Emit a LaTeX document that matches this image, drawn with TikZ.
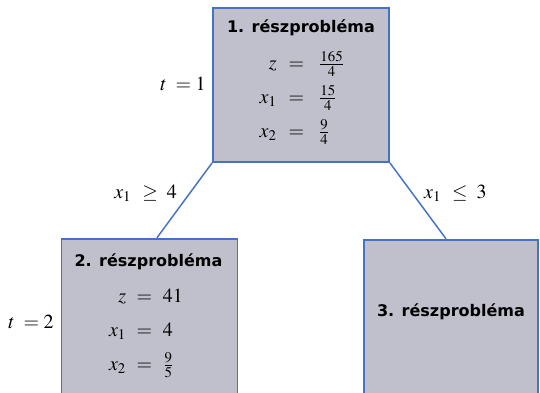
\documentclass[tikz,border=0pt]{standalone}
\usepackage{mathptmx}
\usepackage[no-math]{fontspec}
\newfontfamily\titlefont{DejaVu Sans}
\usepackage{xcolor}
\usepackage{tikz}
\usetikzlibrary{positioning, calc}
\definecolor{boxFill}{RGB}{192,192,205}
\definecolor{boxLine}{RGB}{68,114,196}

\begin{document}
\begin{tikzpicture}[
    x=0.75pt, y=-0.75pt,
    subproblem/.style={rectangle, draw=boxLine, line width=1.4pt, fill=boxFill, minimum width=132pt, inner sep=0pt},
    title/.style={font=\titlefont\bfseries\fontsize{12}{14}\selectfont},
    values/.style={font=\fontsize{15}{17}\selectfont, inner sep=0pt},
    branch/.style={draw=boxLine, line width=1.1pt},
    cond/.style={font=\fontsize{15}{17}\selectfont}
]
    \clip (0,0) rectangle (540,393);

    % Subproblem 1
    \node[subproblem, minimum height=115.5pt] (box1) at (301,85) {};
    \node[title] (title1) at (301,28) {1. részprobléma};
    \node[values] (val1) at (302,97) {$\renewcommand{\arraystretch}{1.5}\begin{array}{r@{\hspace{9pt}}c@{\hspace{11pt}}l}
        z & = & \frac{165}{4}\\
        x_1 & = & \frac{15}{4}\\
        x_2 & = & \frac{9}{4}
    \end{array}$};
    \node[cond] (t1) at (183,84) {$t\;=1$};

    % Subproblem 2
    \node[subproblem, minimum height=128pt] (box2) at (149.5,324) {};
    \node[title] (title2) at (148.5,262) {2. részprobléma};
    \node[values] (val2) at (146,330) {$\renewcommand{\arraystretch}{1.5}\begin{array}{r@{\hspace{8pt}}c@{\hspace{8pt}}l}
        z & = & 41\\
        x_1 & = & 4\\
        x_2 & = & \frac{9}{5}
    \end{array}$};
    \node[cond] (t2) at (31,322) {$t\;=2$};

    % Subproblem 3
    \node[subproblem, minimum width=130.5pt, minimum height=128pt] (box3) at (451,325) {};
    \node[title] (title3) at (451,312) {3. részprobléma};

    % Branches
    \draw[branch] (box1.south west) -- ([xshift=5.6pt]box2.north)
        node[pos=0.4, left=6pt, cond] (c1) {$x_1\;\,\geq\;4$};
    \draw[branch] (box1.south east) -- ([xshift=-3.8pt]box3.north)
        node[pos=0.4, right=5pt, cond] (c2) {$x_1\;\,\leq\;3$};
\end{tikzpicture}
\end{document}
